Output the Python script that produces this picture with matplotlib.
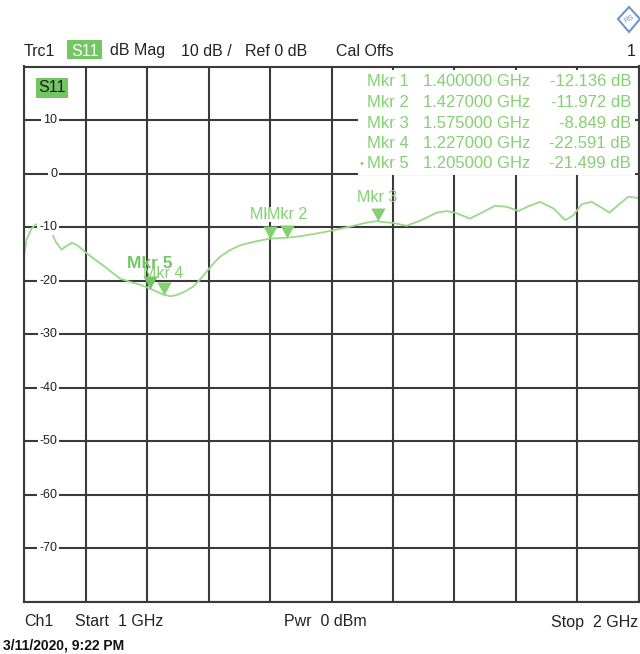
import numpy as np
import matplotlib
matplotlib.use("Agg")
import matplotlib.pyplot as plt
from matplotlib.patches import Rectangle, Polygon

plt.rcParams['font.family'] = ['Liberation Sans', 'DejaVu Sans']

# S11 trace, frequency in GHz, magnitude in dB
freq = [1.000, 1.004, 1.0125, 1.0195, 1.029, 1.036, 1.045, 1.052, 1.061, 1.068,
        1.078, 1.088, 1.102, 1.128, 1.156, 1.172, 1.190, 1.205, 1.227, 1.238,
        1.248, 1.262, 1.275, 1.286, 1.297, 1.308, 1.319, 1.335, 1.351, 1.375,
        1.400, 1.427, 1.449, 1.475, 1.502, 1.530, 1.555, 1.575, 1.579, 1.600,
        1.622, 1.644, 1.671, 1.687, 1.701, 1.725, 1.741, 1.766, 1.785, 1.804,
        1.820, 1.839, 1.861, 1.880, 1.893, 1.907, 1.923, 1.937, 1.952, 1.966,
        1.983, 2.000]
s11_db = [-15.5, -12.4, -10.2, -9.5, -9.3, -9.8, -11.0, -12.8, -14.2, -13.6,
          -12.9, -13.5, -14.9, -17.1, -19.6, -20.2, -20.8, -21.5, -22.6, -22.9,
          -22.7, -22.0, -21.1, -19.8, -18.3, -16.8, -15.5, -14.3, -13.4, -12.7,
          -12.14, -11.97, -11.7, -11.2, -10.6, -9.9, -9.2, -8.85, -9.0, -9.2,
          -9.75, -8.8, -7.3, -7.0, -7.3, -8.4, -7.5, -6.0, -6.2, -7.0,
          -6.1, -5.3, -6.5, -8.7, -7.8, -5.7, -5.3, -6.2, -7.3, -5.9,
          -4.3, -4.6]

# markers: name, frequency (GHz), value (dB)
mkr_names = ["Mkr 1", "Mkr 2", "Mkr 3", "Mkr 4", "Mkr 5"]
mkr_freq = [1.400, 1.427, 1.575, 1.227, 1.205]
mkr_db = [-12.136, -11.972, -8.849, -22.591, -21.499]

y_ticks = [10, 0, -10, -20, -30, -40, -50, -60, -70]

TRACE = '#98d98a'
MKR = '#85d072'
BOX = '#72c763'
GRID = '#3a3a3a'
W, H = 640, 654


def fx(x):
    return x / W


def fy(y):
    return 1 - y / H


fig = plt.figure(figsize=(6.4, 6.54), dpi=100)
ax = fig.add_axes([fx(24), fy(602), 615 / W, 535.5 / H])
ax.set_xlim(1, 2)
ax.set_ylim(-80, 20)
ax.set_xticks(np.arange(1, 2.01, 0.1))
ax.set_yticks(np.arange(-80, 21, 10))
ax.tick_params(length=0, labelbottom=False, labelleft=False)
ax.set_axisbelow(True)
ax.grid(True, color=GRID, lw=1.5)
for sp in ax.spines.values():
    sp.set_color(GRID)
    sp.set_linewidth(1.5)

# y labels sit inside the grid on a white patch
for v in y_ticks:
    ax.text(0.0537, v, f"{v}", transform=ax.get_yaxis_transform(),
            ha='right', va='center', fontsize=9, color='#222222', zorder=3,
            bbox=dict(facecolor='white', edgecolor='none', pad=1.2))

# white area behind the marker table
ax.add_patch(Rectangle((1.543, -0.3), 0.4505, 19.6, facecolor='white',
                       edgecolor='none', zorder=1))

ax.plot(freq, s11_db, color=TRACE, lw=1.3, zorder=2, solid_joinstyle='round')

# marker triangles with their apex on the trace
tri = [(0, 0), (-0.55, 1), (0.55, 1), (0, 0)]
for i, (name, f, v) in enumerate(zip(mkr_names, mkr_freq, mkr_db)):
    active = name == "Mkr 5"
    ax.plot([f], [v], marker=tri, markersize=18.7, color=BOX if active else MKR,
            markeredgewidth=0, zorder=4, clip_on=False)
    off = 18 if active else 17
    if name == "Mkr 4":
        off = 15.5
    box = None
    if name == "Mkr 2":
        box = dict(facecolor='white', edgecolor='none', pad=0)
    ax.annotate(name, (f, v), xytext=(0, off), textcoords='offset points',
                ha='center', va='center', color=BOX if active else MKR,
                fontsize=12.5 if active else 11.5, bbox=box,
                fontweight='bold' if active else 'normal',
                zorder=6 if active else 5)

# reference position indicator on the right edge
ax.plot([2.0], [0], marker=[(0, 0), (1, 0.8), (1, -0.8), (0, 0)], markersize=9,
        color=MKR, markeredgewidth=0, clip_on=False, zorder=4)

# marker table
rows_y = [82, 102.5, 123, 143.5, 164]
for name, f, v, y in zip(mkr_names, mkr_freq, mkr_db, rows_y):
    fig.text(fx(367), fy(y), name, ha='left', va='center', fontsize=12, color=MKR)
    fig.text(fx(423), fy(y), f"{f:.6f} GHz", ha='left', va='center',
             fontsize=12, color=MKR)
    fig.text(fx(631), fy(y), f"{v:.3f} dB", ha='right', va='center',
             fontsize=12, color=MKR)
fig.text(fx(361), fy(rows_y[-1]), "•", ha='center', va='center', fontsize=8,
         color=MKR)

# S11 label box in the diagram
fig.patches.append(Rectangle((fx(36), fy(98)), 32 / W, 20 / H, facecolor=BOX,
                             edgecolor='none', transform=fig.transFigure))
fig.text(fx(52), fy(88), "S11", ha='center', va='center', fontsize=11.5,
         color='#1e1e1e')

# header line
hy = 51
fig.text(fx(24), fy(hy), "Trc1", ha='left', va='center', fontsize=11.5,
         color='#222222')
fig.patches.append(Rectangle((fx(67), fy(59)), 35 / W, 19 / H, facecolor=BOX,
                             edgecolor='none', transform=fig.transFigure))
fig.text(fx(84.5), fy(hy), "S11", ha='center', va='center', fontsize=11.5,
         color='white')
for x, s in [(110, "dB Mag"), (181, "10 dB /"), (245, "Ref 0 dB"), (336, "Cal Offs")]:
    fig.text(fx(x), fy(hy), s, ha='left', va='center', fontsize=11.5,
             color='#222222')
fig.text(fx(636), fy(hy), "1", ha='right', va='center', fontsize=11.5,
         color='#222222')

# logo diamond
fig.patches.append(Polygon([(fx(629), fy(7)), (fx(640), fy(19)), (fx(629), fy(32)),
                            (fx(618), fy(19))], closed=True, facecolor='white',
                           edgecolor='#6f93cc', lw=1.5, transform=fig.transFigure))
fig.text(fx(629), fy(19.5), "RS", ha='center', va='center', fontsize=5.5,
         color='#6f93cc', rotation=30)

# footer
by = 622
fig.text(fx(24), fy(by), "Ch1", ha='left', va='center', fontsize=11.5,
         color='#222222')
fig.text(fx(75), fy(by), "Start  1 GHz", ha='left', va='center', fontsize=11.5,
         color='#222222')
fig.text(fx(284), fy(by), "Pwr  0 dBm", ha='left', va='center', fontsize=11.5,
         color='#222222')
fig.text(fx(638), fy(by), "Stop  2 GHz", ha='right', va='center', fontsize=11.5,
         color='#222222')
fig.text(fx(3), fy(646), "3/11/2020, 9:22 PM", ha='left', va='center',
         fontsize=10, fontweight='bold', color='#111111')

fig.savefig("out.png", dpi=100)
